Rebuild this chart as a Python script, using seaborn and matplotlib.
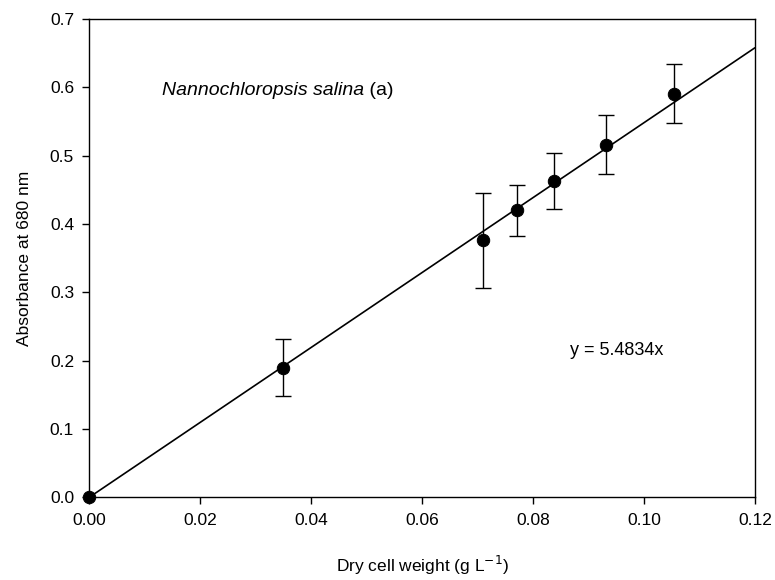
import matplotlib
matplotlib.use("Agg")
import matplotlib.pyplot as plt
import seaborn as sns
import numpy as np
import pandas as pd

# Data
dcw = [0.0, 0.0349, 0.0710, 0.0771, 0.0837, 0.0932, 0.1054]
absorbance = [0.0, 0.190, 0.376, 0.420, 0.463, 0.516, 0.591]
err = [0.0, 0.042, 0.070, 0.037, 0.041, 0.043, 0.043]
slope = 5.4834
fit_x = [0.0, 0.12]

sns.set_theme(style="ticks")
plt.rcParams['font.family'] = ['Liberation Sans', 'DejaVu Sans']
plt.rcParams['text.color'] = 'black'
plt.rcParams['axes.labelcolor'] = 'black'

df = pd.DataFrame({"x": dcw, "y": absorbance, "e": err})
fit = pd.DataFrame({"x": fit_x, "y": [slope * v for v in fit_x]})

fig = plt.figure(figsize=(7.75, 5.8), dpi=100)
ax = fig.add_axes([0.1152, 0.1426, 0.974 - 0.1152, 0.967 - 0.1426])

sns.lineplot(data=fit, x="x", y="y", ax=ax, color="black", lw=1.2, zorder=2)
ax.errorbar(df["x"][1:], df["y"][1:], yerr=df["e"][1:], fmt="none", ecolor="black",
            elinewidth=1.0, capsize=6, capthick=1.0, zorder=3)
sns.scatterplot(data=df, x="x", y="y", ax=ax, color="black", s=80, edgecolor="black",
                zorder=4, clip_on=False)

ax.set_xlim(0, 0.12)
ax.set_ylim(0, 0.7)
ax.set_xticks(np.arange(0, 0.1201, 0.02))
ax.set_xticklabels([f"{v:.2f}" for v in np.arange(0, 0.1201, 0.02)])
ax.set_yticks(np.arange(0, 0.701, 0.1))
ax.set_yticklabels([f"{v:.1f}" for v in np.arange(0, 0.701, 0.1)])
ax.tick_params(axis="both", direction="out", length=5, width=1, labelsize=12.5, colors="black", pad=6)
for s in ax.spines.values():
    s.set_color("black")
    s.set_linewidth(1.0)

ax.set_xlabel("Dry cell weight (g L$^{-1}$)", fontsize=12.5, labelpad=19)
ax.set_ylabel("Absorbance at 680 nm", fontsize=12.5, labelpad=13)

t1 = ax.text(0.0131, 0.596, "Nannochloropsis salina", fontsize=14, fontstyle="italic",
             va="center", ha="left")
ax.annotate(" (a)", xycoords=t1, xy=(1, 0.5), va="center", ha="left", fontsize=14)
ax.text(0.0866, 0.2155, "y = 5.4834x", fontsize=13, va="center", ha="left")

fig.savefig("out.png", dpi=100)
